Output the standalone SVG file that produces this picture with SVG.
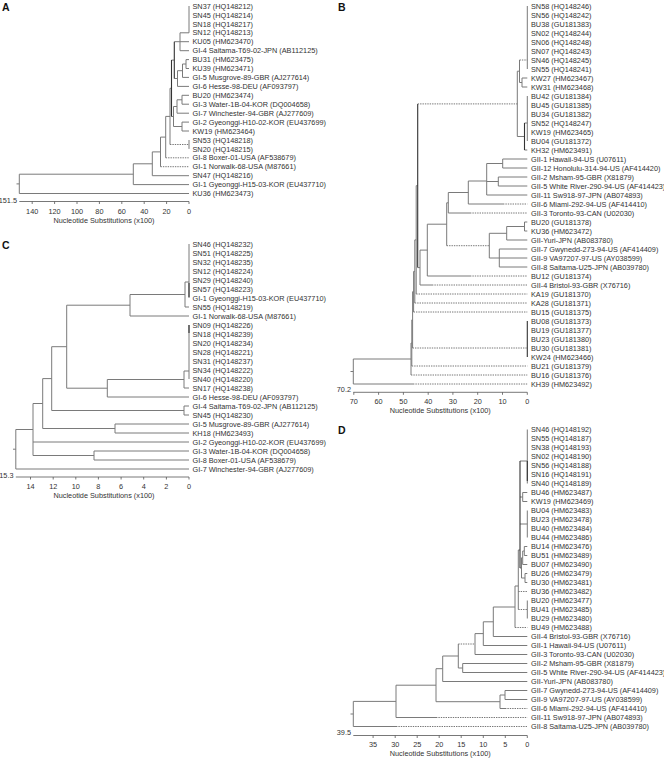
<svg xmlns="http://www.w3.org/2000/svg" width="664" height="758" viewBox="0 0 664 758">
<style>
text{font-family:"Liberation Sans",Arial,sans-serif;fill:#333}
.t{font-size:7.3px}
.pl{font-size:10.5px;font-weight:bold;fill:#111}
.m{text-anchor:middle}
.e{text-anchor:end}
.br{fill:none;stroke:#7a7a7a;stroke-width:1}
.dk{fill:none;stroke:#333;stroke-width:1.1}
.dt{fill:none;stroke:#777;stroke-width:1;stroke-dasharray:1.4 1}
.ax{fill:none;stroke:#555;stroke-width:0.8}
</style>
<rect width="664" height="758" fill="#fff"/>

<!-- ================= PANEL A ================= -->
<g id="panelA">
<text class="pl" x="2" y="10.7">A</text>
<g id="connectorsA">
<path class="br" d="M189 6V32.8M180 32.8V50.7M180 32.8H189M180 41.7H189M180 50.7H189
M186 59.6V68.5M186 59.6H189M186 68.5H189M182.5 64V77.4M182.5 64H186M182.5 77.4H189
M177.5 70.7V86.4M177.5 70.7H182.5M177.5 86.4H189M174.3 41.7H180M174.3 78.5H177.5
M182 95.3V104.2M182 95.3H189M182 104.2H189M177 99.8V113.2M177 99.8H182M177 113.2H189
M182 122.1V131M182 122.1H189M182 131H189M173.5 106.5V126.5M173.5 106.5H177M173.5 126.5H182
M171.5 60.1H174.3M171.5 116.5H173.5M189 140V148.9M170 88.3V144.5M170 88.3H171.5
M165.7 116.4V157.8M165.7 116.4H170M160.5 137.1V166.7M160.5 137.1H165.7
M152.3 151.9V175.7M152.3 151.9H160.5M152.3 175.7H189M133.3 163.8V184.6M133.3 163.8H152.3M133.3 184.6H189
M19.3 174.2V193.5M19.3 174.2H133.3M19.3 193.5H189M16.5 183.9H19.3"/>
<path class="dk" d="M174.3 41.7V78.5M171.5 60.1V116.5"/>
<path class="dt" d="M170 144.5H189M165.7 157.8H189M160.5 166.7H189"/>
</g>
<g id="axisA">
<path class="ax" d="M19.3 201.5H189M189 201.5v2.5M166.6 201.5v2.5M144.2 201.5v2.5M121.8 201.5v2.5M99.4 201.5v2.5M77 201.5v2.5M54.6 201.5v2.5M32.2 201.5v2.5"/>
<text class="t e" x="17" y="202.5">151.5</text>
<text class="t m" x="189" y="213.6">0</text><text class="t m" x="166.6" y="213.6">20</text><text class="t m" x="144.2" y="213.6">40</text><text class="t m" x="121.8" y="213.6">60</text><text class="t m" x="99.4" y="213.6">80</text><text class="t m" x="77" y="213.6">100</text><text class="t m" x="54.6" y="213.6">120</text><text class="t m" x="32.2" y="213.6">140</text>
<text class="t m" x="104" y="222.6">Nucleotide Substitutions (x100)</text>
</g>
<g id="a0"><text class="t" x="192.5" y="8.6">SN37 (HQ148212)</text></g>
<g id="a1"><text class="t" x="192.5" y="17.5">SN45 (HQ148214)</text></g>
<g id="a2"><text class="t" x="192.5" y="26.5">SN18 (HQ148217)</text></g>
<g id="a3"><text class="t" x="192.5" y="35.4">SN12 (HQ148213)</text></g>
<g id="a4"><text class="t" x="192.5" y="44.3">KU05 (HM623470)</text></g>
<g id="a5"><text class="t" x="192.5" y="53.3">GI-4 Saitama-T69-02-JPN (AB112125)</text></g>
<g id="a6"><text class="t" x="192.5" y="62.2">BU31 (HM623475)</text></g>
<g id="a7"><text class="t" x="192.5" y="71.1">KU39 (HM623471)</text></g>
<g id="a8"><text class="t" x="192.5" y="80">GI-5 Musgrove-89-GBR (AJ277614)</text></g>
<g id="a9"><text class="t" x="192.5" y="89">GI-6 Hesse-98-DEU (AF093797)</text></g>
<g id="a10"><text class="t" x="192.5" y="97.9">BU20 (HM623474)</text></g>
<g id="a11"><text class="t" x="192.5" y="106.8">GI-3 Water-1B-04-KOR (DQ004658)</text></g>
<g id="a12"><text class="t" x="192.5" y="115.8">GI-7 Winchester-94-GBR (AJ277609)</text></g>
<g id="a13"><text class="t" x="192.5" y="124.7">GI-2 Gyeonggi-H10-02-KOR (EU437699)</text></g>
<g id="a14"><text class="t" x="192.5" y="133.6">KW19 (HM623464)</text></g>
<g id="a15"><text class="t" x="192.5" y="142.6">SN53 (HQ148218)</text></g>
<g id="a16"><text class="t" x="192.5" y="151.5">SN20 (HQ148215)</text></g>
<g id="a17"><text class="t" x="192.5" y="160.4">GI-8 Boxer-01-USA (AF538679)</text></g>
<g id="a18"><text class="t" x="192.5" y="169.3">GI-1 Norwalk-68-USA (M87661)</text></g>
<g id="a19"><text class="t" x="192.5" y="178.3">SN47 (HQ148216)</text></g>
<g id="a20"><text class="t" x="192.5" y="187.2">GI-1 Gyeonggi-H15-03-KOR (EU437710)</text></g>
<g id="a21"><text class="t" x="192.5" y="196.1">KU36 (HM623473)</text></g>
</g>

<!-- ================= PANEL C ================= -->
<g id="panelC">
<text class="pl" x="2" y="248.7">C</text>
<g id="connectorsC">
<path class="br" d="M189 244V298M185 282V307M185 282H189M185 307H189M130 294.5V316M130 294.5H185M130 316H189
M189 325V379M184 371V388M184 371H189M184 388H189M107.3 379.5V397M107.3 379.5H184M107.3 397H189
M66.7 305.2V388.2M66.7 305.2H130M66.7 388.2H107.3M184 406V415M184 406H189M184 415H189
M51.7 346.7V410.5M51.7 346.7H66.7M51.7 410.5H184M115 424V433M115 424H189M115 433H189
M42.7 378.6V428.5M42.7 378.6H51.7M42.7 428.5H115M94 451V460M94 451H189M94 460H189
M33 403.5V455.5M33 403.5H42.7M33 442H189M33 455.5H94M15.8 429.5V469M15.8 429.5H33M15.8 469H189M13 449.2H15.8"/>
<path class="dk" d="M189 283V297M189 325V333"/>
</g>
<g id="axisC">
<path class="ax" d="M15.8 477H189M189 477v2.5M166.4 477v2.5M143.7 477v2.5M121.1 477v2.5M98.4 477v2.5M75.8 477v2.5M53.2 477v2.5M30.5 477v2.5"/>
<text class="t e" x="13.5" y="478">15.3</text>
<text class="t m" x="189" y="489">0</text><text class="t m" x="166.4" y="489">2</text><text class="t m" x="143.7" y="489">4</text><text class="t m" x="121.1" y="489">6</text><text class="t m" x="98.4" y="489">8</text><text class="t m" x="75.8" y="489">10</text><text class="t m" x="53.2" y="489">12</text><text class="t m" x="30.5" y="489">14</text>
<text class="t m" x="104" y="498">Nucleotide Substitutions (x100)</text>
</g>
<g id="c0"><text class="t" x="192.5" y="246.6">SN46 (HQ148232)</text></g>
<g id="c1"><text class="t" x="192.5" y="255.6">SN51 (HQ148225)</text></g>
<g id="c2"><text class="t" x="192.5" y="264.6">SN32 (HQ148235)</text></g>
<g id="c3"><text class="t" x="192.5" y="273.6">SN12 (HQ148224)</text></g>
<g id="c4"><text class="t" x="192.5" y="282.6">SN29 (HQ148240)</text></g>
<g id="c5"><text class="t" x="192.5" y="291.6">SN57 (HQ148223)</text></g>
<g id="c6"><text class="t" x="192.5" y="300.6">GI-1 Gyeonggi-H15-03-KOR (EU437710)</text></g>
<g id="c7"><text class="t" x="192.5" y="309.6">SN55 (HQ148219)</text></g>
<g id="c8"><text class="t" x="192.5" y="318.6">GI-1 Norwalk-68-USA (M87661)</text></g>
<g id="c9"><text class="t" x="192.5" y="327.6">SN09 (HQ148226)</text></g>
<g id="c10"><text class="t" x="192.5" y="336.6">SN18 (HQ148239)</text></g>
<g id="c11"><text class="t" x="192.5" y="345.6">SN20 (HQ148234)</text></g>
<g id="c12"><text class="t" x="192.5" y="354.6">SN28 (HQ148221)</text></g>
<g id="c13"><text class="t" x="192.5" y="363.6">SN31 (HQ148237)</text></g>
<g id="c14"><text class="t" x="192.5" y="372.6">SN34 (HQ148222)</text></g>
<g id="c15"><text class="t" x="192.5" y="381.6">SN40 (HQ148220)</text></g>
<g id="c16"><text class="t" x="192.5" y="390.6">SN17 (HQ148238)</text></g>
<g id="c17"><text class="t" x="192.5" y="399.6">GI-6 Hesse-98-DEU (AF093797)</text></g>
<g id="c18"><text class="t" x="192.5" y="408.6">GI-4 Saitama-T69-02-JPN (AB112125)</text></g>
<g id="c19"><text class="t" x="192.5" y="417.6">SN45 (HQ148230)</text></g>
<g id="c20"><text class="t" x="192.5" y="426.6">GI-5 Musgrove-89-GBR (AJ277614)</text></g>
<g id="c21"><text class="t" x="192.5" y="435.6">KH18 (HM623493)</text></g>
<g id="c22"><text class="t" x="192.5" y="444.6">GI-2 Gyeonggi-H10-02-KOR (EU437699)</text></g>
<g id="c23"><text class="t" x="192.5" y="453.6">GI-3 Water-1B-04-KOR (DQ004658)</text></g>
<g id="c24"><text class="t" x="192.5" y="462.6">GI-8 Boxer-01-USA (AF538679)</text></g>
<g id="c25"><text class="t" x="192.5" y="471.6">GI-7 Winchester-94-GBR (AJ277609)</text></g>
</g>

<!-- ================= PANEL B ================= -->
<g id="panelB">
<text class="pl" x="338" y="10.7">B</text>
<g id="connectorsB">
<path class="br" d="M527.3 6V69M522 78V87M522 78H527.3M522 87H527.3M519.5 60V82.5M519.5 82.5H522
M527.3 96V141M524.5 123H527.3M524.5 150H527.3M517.3 71.2V136.5M517.3 71.2H519.5M517.3 136.5H524.5
M502.7 159V168M502.7 159H527.3M502.7 168H527.3M498.3 177V186M498.3 177H527.3M498.3 186H527.3
M486.7 163.5V195M486.7 163.5H502.7M486.7 181.5H498.3M486.7 195H527.3
M468.3 181V204M468.3 181H486.7M468.3 204H503M448.3 192.5V213M448.3 192.5H468.3M448.3 213H470
M524.5 222V231M524.5 222H527.3M524.5 231H527.3M506.7 226.5V240M506.7 226.5H524.5M506.7 240H527.3
M499.3 249V267M499.3 249H527.3M499.3 258H527.3M499.3 267H527.3M489.3 233.3V258M489.3 233.3H506.7M489.3 258H499.3
M446.7 202.8V245.7M446.7 202.8H448.3M427.3 224.2V276M427.3 224.2H446.7M427.3 276H470
M420 250.1V285M420 250.1H427.3M420 285H432M417.7 267.6H420
M416.2 185.7V294M416.2 185.7H417.7M414.8 239.9V303M414.8 239.9H416.2M413.6 271.4V312M413.6 271.4H414.8
M412.6 291.7V348M412.6 291.7H413.6M411.8 319.9V366M411.8 319.9H412.6M411 343V375M411 343H411.8
M353.3 359V384M353.3 359H411M353.3 384H413M350.5 371.5H353.3"/>
<path class="dk" d="M524.5 123V150M417.7 103.9V267.6M527.3 321V357"/>
<path class="dt" d="M519.5 60H527.3M417.7 103.9H517.3M503 204H527.3M470 213H527.3M446.7 245.7H489.3M470 276H527.3M432 285H527.3
M416.2 294H527.3M414.8 303H527.3M413.6 312H527.3M412.6 348H527.3M411.8 366H527.3M411 375H527.3M413 384H527.3"/>
</g>
<g id="axisB">
<path class="ax" d="M353.3 392.3H527.3M527.3 392.3v2.5M502.5 392.3v2.5M477.7 392.3v2.5M452.9 392.3v2.5M428.2 392.3v2.5M403.4 392.3v2.5M378.6 392.3v2.5M353.8 392.3v2.5"/>
<text class="t e" x="351" y="391.5">70.2</text>
<text class="t m" x="527.3" y="404.3">0</text><text class="t m" x="502.5" y="404.3">10</text><text class="t m" x="477.7" y="404.3">20</text><text class="t m" x="452.9" y="404.3">30</text><text class="t m" x="428.2" y="404.3">40</text><text class="t m" x="403.4" y="404.3">50</text><text class="t m" x="378.6" y="404.3">60</text><text class="t m" x="353.8" y="404.3">70</text>
<text class="t m" x="440.3" y="413">Nucleotide Substitutions (x100)</text>
</g>
<g id="b0"><text class="t" x="531" y="8.6">SN58 (HQ148246)</text></g>
<g id="b1"><text class="t" x="531" y="17.6">SN56 (HQ148242)</text></g>
<g id="b2"><text class="t" x="531" y="26.6">BU38 (GU181383)</text></g>
<g id="b3"><text class="t" x="531" y="35.6">SN02 (HQ148244)</text></g>
<g id="b4"><text class="t" x="531" y="44.6">SN06 (HQ148248)</text></g>
<g id="b5"><text class="t" x="531" y="53.6">SN07 (HQ148243)</text></g>
<g id="b6"><text class="t" x="531" y="62.6">SN46 (HQ148245)</text></g>
<g id="b7"><text class="t" x="531" y="71.6">SN55 (HQ148241)</text></g>
<g id="b8"><text class="t" x="531" y="80.6">KW27 (HM623467)</text></g>
<g id="b9"><text class="t" x="531" y="89.6">KW31 (HM623468)</text></g>
<g id="b10"><text class="t" x="531" y="98.6">BU42 (GU181384)</text></g>
<g id="b11"><text class="t" x="531" y="107.6">BU45 (GU181385)</text></g>
<g id="b12"><text class="t" x="531" y="116.6">BU34 (GU181382)</text></g>
<g id="b13"><text class="t" x="531" y="125.6">SN52 (HQ148247)</text></g>
<g id="b14"><text class="t" x="531" y="134.6">KW19 (HM623465)</text></g>
<g id="b15"><text class="t" x="531" y="143.6">BU04 (GU181372)</text></g>
<g id="b16"><text class="t" x="531" y="152.6">KH32 (HM623491)</text></g>
<g id="b17"><text class="t" x="531" y="161.6">GII-1 Hawaii-94-US (U07611)</text></g>
<g id="b18"><text class="t" x="531" y="170.6">GII-12 Honolulu-314-94-US (AF414420)</text></g>
<g id="b19"><text class="t" x="531" y="179.6">GII-2 Msham-95-GBR (X81879)</text></g>
<g id="b20"><text class="t" x="531" y="188.6">GII-5 White River-290-94-US (AF414423)</text></g>
<g id="b21"><text class="t" x="531" y="197.6">GII-11 Sw918-97-JPN (AB074893)</text></g>
<g id="b22"><text class="t" x="531" y="206.6">GII-6 Miami-292-94-US (AF414410)</text></g>
<g id="b23"><text class="t" x="531" y="215.6">GII-3 Toronto-93-CAN (U02030)</text></g>
<g id="b24"><text class="t" x="531" y="224.6">BU20 (GU181378)</text></g>
<g id="b25"><text class="t" x="531" y="233.6">KU36 (HM623472)</text></g>
<g id="b26"><text class="t" x="531" y="242.6">GII-Yuri-JPN (AB083780)</text></g>
<g id="b27"><text class="t" x="531" y="251.6">GII-7 Gwynedd-273-94-US (AF414409)</text></g>
<g id="b28"><text class="t" x="531" y="260.6">GII-9 VA97207-97-US (AY038599)</text></g>
<g id="b29"><text class="t" x="531" y="269.6">GII-8 Saitama-U25-JPN (AB039780)</text></g>
<g id="b30"><text class="t" x="531" y="278.6">BU12 (GU181374)</text></g>
<g id="b31"><text class="t" x="531" y="287.6">GII-4 Bristol-93-GBR (X76716)</text></g>
<g id="b32"><text class="t" x="531" y="296.6">KA19 (GU181370)</text></g>
<g id="b33"><text class="t" x="531" y="305.6">KA28 (GU181371)</text></g>
<g id="b34"><text class="t" x="531" y="314.6">BU15 (GU181375)</text></g>
<g id="b35"><text class="t" x="531" y="323.6">BU08 (GU181373)</text></g>
<g id="b36"><text class="t" x="531" y="332.6">BU19 (GU181377)</text></g>
<g id="b37"><text class="t" x="531" y="341.6">BU23 (GU181380)</text></g>
<g id="b38"><text class="t" x="531" y="350.6">BU30 (GU181381)</text></g>
<g id="b39"><text class="t" x="531" y="359.6">KW24 (HM623466)</text></g>
<g id="b40"><text class="t" x="531" y="368.6">BU21 (GU181379)</text></g>
<g id="b41"><text class="t" x="531" y="377.6">BU16 (GU181376)</text></g>
<g id="b42"><text class="t" x="531" y="386.6">KH39 (HM623492)</text></g>
</g>

<!-- ================= PANEL D ================= -->
<g id="panelD">
<text class="pl" x="338" y="434.2">D</text>
<g id="connectorsD">
<path class="br" d="M527.3 429.5V483.5M520 461H527.3M522.7 492.5V501.5M522.7 492.5H527.3M522.7 501.5H527.3M520 497H522.7
M527.3 510.5V537.5M520 524H527.3M524.3 546.5V555.5M524.3 546.5H527.3M524.3 555.5H527.3
M522.7 551V564.5M522.7 551H524.3M522.7 564.5H527.3M525 573.5V582.5M525 573.5H527.3M525 582.5H527.3
M521.5 557.8V578M521.5 557.8H522.7M521.5 578H525M520 568H521.5
M518.3 550V609.5M518.3 550H520M527.3 600.5V618.5M515 586V627.5M515 586H518.3
M493.3 607V636.5M493.3 607H515M493.3 636.5H527.3M483.3 621.8V645.5M483.3 621.8H493.3M483.3 645.5H527.3
M475 633.6V654.5M475 633.6H483.3M475 654.5H527.3M458.3 644V668
M462.7 663.5V672.5M462.7 663.5H527.3M462.7 672.5H527.3M458.3 668H462.7
M442.7 656V681.5M442.7 656H458.3M442.7 681.5H527.3
M505 690.5V699.5M505 690.5H527.3M505 699.5H527.3M500 695V708.5M500 695H505M500 708.5H505
M436 668.7V701.7M436 668.7H442.7M436 701.7H500M396 685.2V717.5M396 685.2H436M396 717.5H436
M353.3 701.4V726.5M353.3 701.4H396M353.3 726.5H396M350.5 714H353.3"/>
<path class="dk" d="M520 461V568M527.3 461V481"/>
<path class="dt" d="M518.3 591.5H527.3M518.3 609.5H527.3M515 627.5H527.3M458.3 644H475M505 708.5H527.3M436 717.5H527.3M396 726.5H527.3"/>
</g>
<g id="axisD">
<path class="ax" d="M353.3 735.5H527.3M527.3 735.5v2.5M505.3 735.5v2.5M483.3 735.5v2.5M461.2 735.5v2.5M439.2 735.5v2.5M417.2 735.5v2.5M395.2 735.5v2.5M373.1 735.5v2.5"/>
<text class="t e" x="351" y="735">39.5</text>
<text class="t m" x="527.3" y="747.4">0</text><text class="t m" x="505.3" y="747.4">5</text><text class="t m" x="483.3" y="747.4">10</text><text class="t m" x="461.2" y="747.4">15</text><text class="t m" x="439.2" y="747.4">20</text><text class="t m" x="417.2" y="747.4">25</text><text class="t m" x="395.2" y="747.4">30</text><text class="t m" x="373.1" y="747.4">35</text>
<text class="t m" x="440.3" y="756">Nucleotide Substitutions (x100)</text>
</g>
<g id="d0"><text class="t" x="531" y="432.1">SN46 (HQ148192)</text></g>
<g id="d1"><text class="t" x="531" y="441.1">SN55 (HQ148187)</text></g>
<g id="d2"><text class="t" x="531" y="450.1">SN38 (HQ148193)</text></g>
<g id="d3"><text class="t" x="531" y="459.1">SN02 (HQ148190)</text></g>
<g id="d4"><text class="t" x="531" y="468.1">SN56 (HQ148188)</text></g>
<g id="d5"><text class="t" x="531" y="477.1">SN16 (HQ148191)</text></g>
<g id="d6"><text class="t" x="531" y="486.1">SN40 (HQ148189)</text></g>
<g id="d7"><text class="t" x="531" y="495.1">BU46 (HM623487)</text></g>
<g id="d8"><text class="t" x="531" y="504.1">KW19 (HM623469)</text></g>
<g id="d9"><text class="t" x="531" y="513.1">BU04 (HM623483)</text></g>
<g id="d10"><text class="t" x="531" y="522.1">BU23 (HM623478)</text></g>
<g id="d11"><text class="t" x="531" y="531.1">BU40 (HM623484)</text></g>
<g id="d12"><text class="t" x="531" y="540.1">BU44 (HM623486)</text></g>
<g id="d13"><text class="t" x="531" y="549.1">BU14 (HM623476)</text></g>
<g id="d14"><text class="t" x="531" y="558.1">BU51 (HM623489)</text></g>
<g id="d15"><text class="t" x="531" y="567.1">BU07 (HM623490)</text></g>
<g id="d16"><text class="t" x="531" y="576.1">BU26 (HM623479)</text></g>
<g id="d17"><text class="t" x="531" y="585.1">BU30 (HM623481)</text></g>
<g id="d18"><text class="t" x="531" y="594.1">BU36 (HM623482)</text></g>
<g id="d19"><text class="t" x="531" y="603.1">BU20 (HM623477)</text></g>
<g id="d20"><text class="t" x="531" y="612.1">BU41 (HM623485)</text></g>
<g id="d21"><text class="t" x="531" y="621.1">BU29 (HM623480)</text></g>
<g id="d22"><text class="t" x="531" y="630.1">BU49 (HM623488)</text></g>
<g id="d23"><text class="t" x="531" y="639.1">GII-4 Bristol-93-GBR (X76716)</text></g>
<g id="d24"><text class="t" x="531" y="648.1">GII-1 Hawaii-94-US (U07611)</text></g>
<g id="d25"><text class="t" x="531" y="657.1">GII-3 Toronto-93-CAN (U02030)</text></g>
<g id="d26"><text class="t" x="531" y="666.1">GII-2 Msham-95-GBR (X81879)</text></g>
<g id="d27"><text class="t" x="531" y="675.1">GII-5 White River-290-94-US (AF414423)</text></g>
<g id="d28"><text class="t" x="531" y="684.1">GII-Yuri-JPN (AB083780)</text></g>
<g id="d29"><text class="t" x="531" y="693.1">GII-7 Gwynedd-273-94-US (AF414409)</text></g>
<g id="d30"><text class="t" x="531" y="702.1">GII-9 VA97207-97-US (AY038599)</text></g>
<g id="d31"><text class="t" x="531" y="711.1">GII-6 Miami-292-94-US (AF414410)</text></g>
<g id="d32"><text class="t" x="531" y="720.1">GII-11 Sw918-97-JPN (AB074893)</text></g>
<g id="d33"><text class="t" x="531" y="729.1">GII-8 Saitama-U25-JPN (AB039780)</text></g>
</g>
</svg>
